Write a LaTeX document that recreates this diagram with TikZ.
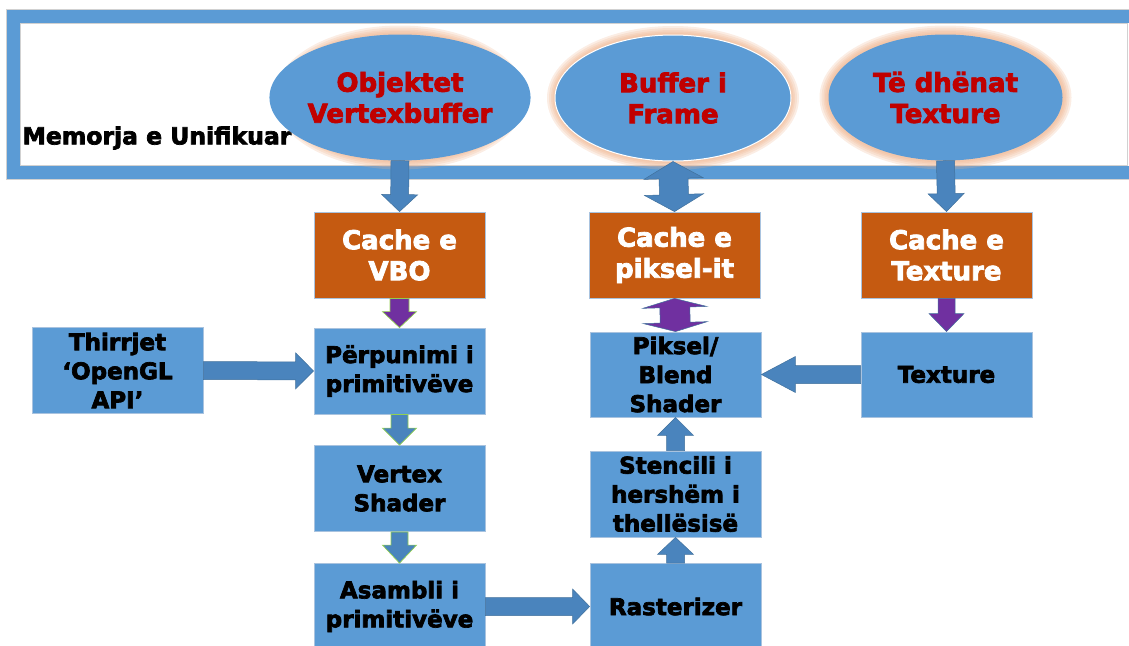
\documentclass[tikz,border=0pt]{standalone}
\usepackage{fontspec}
\setmainfont{DejaVu Sans}[BoldFeatures={FakeBold=3}]
\usetikzlibrary{calc,shapes.geometric}

\definecolor{boxblue}{HTML}{5B9BD5}
\definecolor{arrowblue}{HTML}{4A84BD}
\definecolor{arrowedge}{HTML}{41719C}
\definecolor{cacheorange}{HTML}{C55A11}
\definecolor{arrowpurple}{HTML}{7030A0}
\definecolor{edgegreen}{HTML}{92D050}
\definecolor{titlered}{HTML}{C00000}
\definecolor{glowpeach}{HTML}{EFB48E}
\definecolor{boxedge}{HTML}{A9C3DF}

% block arrow from #2 to #3: shaft half width #4, head half width #5, head length #6
\newcommand\blockarrow[6]{%
  \coordinate (ba-s) at (#2);
  \coordinate (ba-e) at (#3);
  \coordinate (ba-b) at ($(ba-e)!#6!(ba-s)$);
  \filldraw[#1] ($(ba-s)!#4!90:(ba-e)$) -- ($(ba-b)!#4!90:(ba-e)$)
    -- ($(ba-b)!#5!90:(ba-e)$) -- (ba-e) -- ($(ba-b)!#5!-90:(ba-e)$)
    -- ($(ba-b)!#4!-90:(ba-e)$) -- ($(ba-s)!#4!-90:(ba-e)$) -- cycle;
}
% two-headed block arrow between #2 and #3
\newcommand\twowayarrow[6]{%
  \coordinate (da-s) at (#2);
  \coordinate (da-e) at (#3);
  \coordinate (da-b1) at ($(da-s)!#6!(da-e)$);
  \coordinate (da-b2) at ($(da-e)!#6!(da-s)$);
  \filldraw[#1] (da-s) -- ($(da-b1)!#5!90:(da-e)$) -- ($(da-b1)!#4!90:(da-e)$)
    -- ($(da-b2)!#4!90:(da-e)$) -- ($(da-b2)!#5!90:(da-e)$) -- (da-e)
    -- ($(da-b2)!#5!-90:(da-e)$) -- ($(da-b2)!#4!-90:(da-e)$)
    -- ($(da-b1)!#4!-90:(da-e)$) -- ($(da-b1)!#5!-90:(da-e)$) -- cycle;
}

\tikzset{
  memory/.style={ellipse, fill=boxblue, minimum width=234pt, minimum height=126pt,
    inner sep=0pt, text=titlered, align=center,
    font=\bfseries\fontsize{26}{31}\selectfont},
  cachebox/.style={rectangle, fill=cacheorange, draw=boxedge, line width=0.8pt,
    minimum width=171pt, minimum height=86pt, inner sep=0pt, text=white,
    align=center, font=\bfseries\fontsize{26}{31}\selectfont},
  stagebox/.style={rectangle, fill=boxblue, draw=boxedge, line width=0.8pt,
    minimum width=171pt, minimum height=86pt, inner sep=0pt, text=black,
    align=center, font=\bfseries\fontsize{23}{29}\selectfont},
  bluearrow/.style={fill=arrowblue, draw=arrowedge, line width=0.5pt},
  greenarrow/.style={fill=arrowblue, draw=edgegreen, line width=0.7pt},
  purplearrow/.style={fill=arrowpurple, draw=edgegreen, line width=0.7pt},
  purplebluearrow/.style={fill=arrowpurple, draw=arrowedge, line width=0.5pt},
  glow/.style={fill=glowpeach, opacity=0.24},
}

\begin{document}
\begin{tikzpicture}[x=1pt, y=-1pt]
\useasboundingbox (0,0) rectangle (1129,645);

% unified memory frame
\draw[black!18, line width=0.8pt] (6.5,9.5) rectangle (1140,179.5);
\draw[black!18, line width=0.8pt] (20.5,23.5) rectangle (1127,165.5);
\draw[boxblue, line width=13pt] (13.5,16.5) rectangle (1140,172.5);
\node[anchor=west, font=\bfseries\fontsize{23.5}{28}\selectfont] (mem) at (19,138) {Memorja e Unifikuar};

% memory objects
\coordinate (c1) at (400,97.5);
\coordinate (c2) at (673,98);
\coordinate (c3) at (945.5,97.5);
\foreach \c in {c1,c2,c3}{
  \foreach \g in {9,7,5,3.5,2}{
    \fill[glow] (\c) ellipse [x radius=117pt+\g pt, y radius=63pt+\g pt];
  }
}
\node[memory] (e1) at (c1) {Objektet\\Vertexbuffer};
\node[memory, draw=white, line width=1pt, minimum width=236pt] (e2) at (c2) {Buffer i\\Frame};
\node[memory] (e3) at (c3) {Të dhënat\\Texture};

% caches
\node[cachebox] (vbo) at (399.5,255) {Cache e\\VBO};
\node[cachebox] (pcache) at (674.5,255) {Cache e\\piksel-it};
\node[cachebox] (tcache) at (946.5,255) {Cache e\\Texture};

% pipeline stages
\node[stagebox] (thirr) at (117.5,370.5) {Thirrjet\\‘OpenGL\\API’};
\node[stagebox] (perp) at (399.5,371) {Përpunimi i\\primitivëve};
\node[stagebox] (vshader) at (399.5,488.5) {Vertex\\Shader};
\node[stagebox] (asambli) at (399.5,606.5) {Asambli i\\primitivëve};
\node[stagebox] (raster) at (675.5,606.5) {Rasterizer};
\node[stagebox] (stencil) at (675.5,494) {Stencili i\\hershëm i\\thellësisë};
\node[stagebox, minimum height=85pt] (piksel) at (675.5,374.5) {Piksel/\\Blend\\Shader};
\node[stagebox, minimum height=85pt] (texture) at (946.5,374.5) {Texture};

% connectors
\blockarrow{bluearrow}{e1.south}{vbo.north}{9pt}{18pt}{17pt}
\twowayarrow{bluearrow}{e2.south}{pcache.north}{14.5pt}{29.5pt}{17pt}
\blockarrow{bluearrow}{e3.south}{tcache.north}{9pt}{18pt}{18pt}

\blockarrow{purplearrow}{vbo.south}{perp.north}{9.5pt}{17pt}{16pt}
\twowayarrow{purplebluearrow}{pcache.south}{piksel.north}{15pt}{32pt}{9pt}
\blockarrow{purplebluearrow}{tcache.south}{texture.north}{8.5pt}{17.5pt}{18pt}

\blockarrow{bluearrow}{thirr.east}{perp.west}{9pt}{18pt}{18pt}
\blockarrow{greenarrow}{perp.south}{vshader.north}{8.5pt}{17pt}{17pt}
\blockarrow{greenarrow}{vshader.south}{asambli.north}{8.5pt}{17pt}{18pt}
\blockarrow{bluearrow}{asambli.east}{raster.west}{9pt}{17.5pt}{17pt}
\blockarrow{bluearrow}{raster.north}{stencil.south}{9pt}{18pt}{17pt}
\blockarrow{bluearrow}{stencil.north}{piksel.south}{9pt}{18pt}{18pt}
\blockarrow{bluearrow}{texture.west}{piksel.east}{9pt}{18pt}{34pt}
\end{tikzpicture}
\end{document}
